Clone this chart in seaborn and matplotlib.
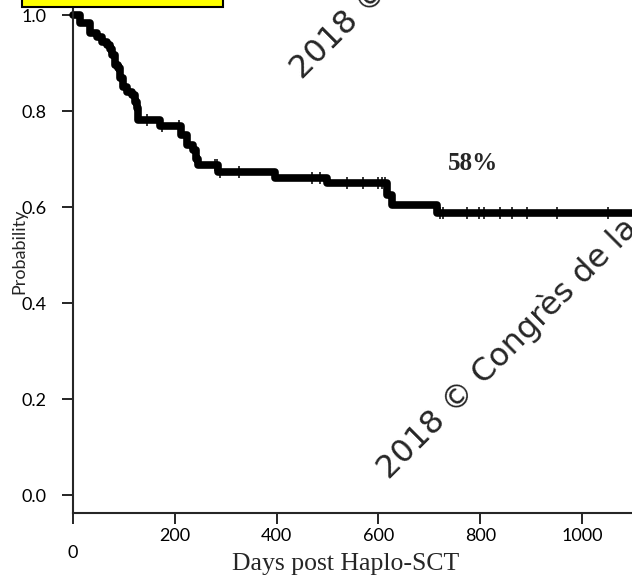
import matplotlib
matplotlib.use("Agg")
import matplotlib.pyplot as plt
import matplotlib.patches as mpatches
import seaborn as sns
import pandas as pd

# Kaplan-Meier step values (days, probability after event)
event_days = [0, 14, 33, 47, 57, 67, 73, 77, 83, 88, 92, 98, 106, 116, 122, 126,
              128, 171, 212, 224, 236, 242, 246, 285, 397, 499, 617, 627, 715, 1100]
event_surv = [1.0, 0.983, 0.9625, 0.954, 0.944, 0.9375, 0.93, 0.917, 0.896, 0.89,
              0.87, 0.85, 0.84, 0.833, 0.82, 0.806, 0.781, 0.769, 0.75, 0.73,
              0.718, 0.70, 0.6875, 0.673, 0.66, 0.65, 0.625, 0.604, 0.5875, 0.5875]

# censored observations
censor_days = [145, 175, 208, 279, 283, 289, 326, 470, 485, 538, 570, 599, 607,
               613, 721, 727, 774, 798, 807, 839, 862, 892, 951, 1051]
censor_surv = [0.781, 0.769, 0.769, 0.6875, 0.6875, 0.673, 0.673, 0.66, 0.66,
               0.65, 0.65, 0.65, 0.65, 0.65, 0.5875, 0.5875, 0.5875, 0.5875,
               0.5875, 0.5875, 0.5875, 0.5875, 0.5875, 0.5875]

x_ticks = [0, 200, 400, 600, 800, 1000]
y_ticks = [0.0, 0.2, 0.4, 0.6, 0.8, 1.0]
annot_text = "58%"
watermark = "2018 © Congrès de la"

sns.set_style("ticks")
plt.rcParams["font.family"] = ["Lato", "DejaVu Sans"]

W, H = 632, 579
fig = plt.figure(figsize=(W / 100, H / 100), dpi=100)
ax = fig.add_axes([73 / W, 66 / H, 1 - 73 / W, (513 - 7) / H])

curve = pd.DataFrame({"days": event_days, "surv": event_surv})
cens = pd.DataFrame({"days": censor_days, "surv": censor_surv})

sns.lineplot(data=curve, x="days", y="surv", drawstyle="steps-post",
             color="black", linewidth=5.5, ax=ax, clip_on=False)
sns.scatterplot(data=cens, x="days", y="surv", marker="|", s=80,
                color="black", linewidth=1.1, ax=ax, zorder=3)

ax.set_xlim(0, 1098)
ax.set_ylim(-0.0375, 1.017)
ax.set_xticks(x_ticks)
ax.set_yticks(y_ticks)
ax.set_yticklabels([f"{v:.1f}" for v in y_ticks])
sns.despine(ax=ax)
for s in ["left", "bottom"]:
    ax.spines[s].set_linewidth(1.5)
ax.tick_params(axis="both", direction="out", length=8, width=1.2,
               colors="black", labelsize=13)
ax.tick_params(axis="y", pad=11)
ax.tick_params(axis="x", pad=3)
# the "0" label sits lower than the others in the original
ax.get_xticklabels()[0].set_y(-0.034)

ax.set_ylabel("Probability", fontsize=13)
ax.yaxis.set_label_coords(-0.082, 0.518)
ax.set_xlabel("Days post Haplo-SCT", fontsize=18.5, family="Liberation Serif")
ax.xaxis.set_label_coords(0.487, -0.08)

ax.text(786, 0.69, annot_text, ha="center", va="center", fontsize=18,
        fontweight="bold", family="Liberation Serif")

# watermarks
fig.text(389 / W, 1 - 480 / H, watermark, rotation=45, rotation_mode="anchor",
         ha="left", va="baseline", fontsize=23, family="DejaVu Sans")
fig.text(302 / W, 1 - 80 / H, watermark, rotation=45, rotation_mode="anchor",
         ha="left", va="baseline", fontsize=23, family="DejaVu Sans")

# yellow title box cut off at the top
fig.patches.append(mpatches.Rectangle((22 / W, 1 - 7 / H), 201 / W, 20 / H,
                                      transform=fig.transFigure, facecolor="#ffff00",
                                      edgecolor="black", linewidth=1.5))

fig.savefig("out.png", dpi=100)
